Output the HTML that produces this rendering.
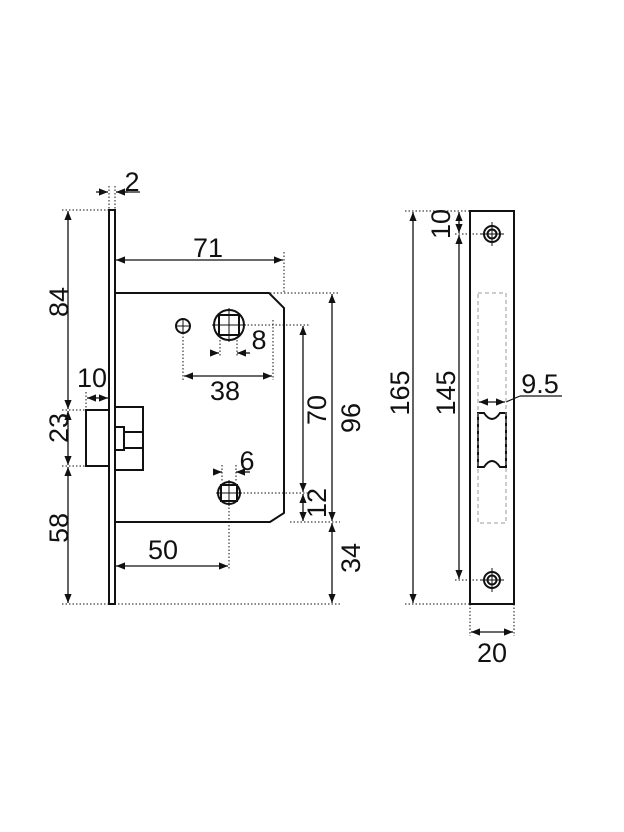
<!DOCTYPE html>
<html><head><meta charset="utf-8"><style>
html,body{margin:0;padding:0;background:#fff;width:624px;height:832px;overflow:hidden}
text{font-family:"Liberation Sans",sans-serif;font-size:27px;fill:#111;text-anchor:middle}
</style></head><body>
<svg width="624" height="832" viewBox="0 0 624 832" xmlns="http://www.w3.org/2000/svg">
<defs>
<marker id="a" viewBox="0 0 10 10" refX="10" refY="5" markerWidth="7" markerHeight="7" orient="auto-start-reverse"><path d="M0,1 L10,5 L0,9 z" fill="#111"/></marker>
</defs>
<g fill="none" stroke="#111" stroke-width="1" stroke-dasharray="1.5,2">
<line x1="62" y1="210" x2="109" y2="210"/>
<line x1="62" y1="604" x2="340" y2="604"/>
<line x1="62" y1="410" x2="86" y2="410"/>
<line x1="62" y1="466" x2="86" y2="466"/>
<line x1="109" y1="186" x2="109" y2="210"/>
<line x1="115" y1="186" x2="115" y2="210"/>
<line x1="86" y1="392" x2="86" y2="410"/>
<line x1="284" y1="252" x2="284" y2="293"/>
<line x1="270" y1="293" x2="340" y2="293"/>
<line x1="290" y1="522" x2="340" y2="522"/>
<line x1="244" y1="325" x2="310" y2="325"/>
<line x1="240" y1="493" x2="310" y2="493"/>
<line x1="183" y1="333" x2="183" y2="380"/>
<line x1="273" y1="320" x2="273" y2="380"/>
<line x1="220" y1="340" x2="220" y2="357"/>
<line x1="237" y1="340" x2="237" y2="357"/>
<line x1="222" y1="465" x2="222" y2="482"/>
<line x1="236" y1="465" x2="236" y2="482"/>
<line x1="229" y1="504" x2="229" y2="570"/>
<line x1="405" y1="211" x2="470" y2="211"/>
<line x1="405" y1="604" x2="490" y2="604"/>
<line x1="455" y1="234" x2="478" y2="234"/>
<line x1="455" y1="580" x2="478" y2="580"/>
<line x1="470" y1="604" x2="470" y2="636"/>
<line x1="514" y1="604" x2="514" y2="636"/>
</g>
<g fill="none" stroke="#111" stroke-width="1.3" marker-start="url(#a)" marker-end="url(#a)">
<line x1="68" y1="211" x2="68" y2="409"/>
<line x1="68" y1="411" x2="68" y2="465"/>
<line x1="68" y1="467" x2="68" y2="603"/>
<line x1="116" y1="260" x2="283" y2="260"/>
<line x1="303" y1="326" x2="303" y2="492"/>
<line x1="303" y1="494" x2="303" y2="521"/>
<line x1="332" y1="294" x2="332" y2="521"/>
<line x1="332" y1="523" x2="332" y2="603"/>
<line x1="87" y1="398" x2="108" y2="398"/>
<line x1="184" y1="376" x2="272" y2="376"/>
<line x1="116" y1="566" x2="228" y2="566"/>
<line x1="413" y1="212" x2="413" y2="603"/>
<line x1="459" y1="212" x2="459" y2="233"/>
<line x1="459" y1="235" x2="459" y2="579"/>
<line x1="471" y1="632" x2="513" y2="632"/>
<line x1="479" y1="402" x2="505" y2="402"/>
</g>
<g fill="none" stroke="#111" stroke-width="1.3" marker-end="url(#a)">
<line x1="96" y1="192" x2="108" y2="192"/>
<line x1="128" y1="192" x2="116" y2="192"/>
<line x1="250" y1="353" x2="237" y2="353"/>
<line x1="210" y1="353" x2="219" y2="353"/>
<line x1="250" y1="472" x2="236" y2="472"/>
<line x1="214" y1="472" x2="222" y2="472"/>
</g>
<g fill="none" stroke="#111" stroke-width="1.2">
<line x1="122" y1="192" x2="140" y2="192"/>
<line x1="506" y1="402" x2="520" y2="396"/>
<line x1="520" y1="396" x2="562" y2="396"/>
</g>
<g fill="none" stroke="#111" stroke-width="2">
<rect x="109" y="210" width="6" height="394"/>
<path d="M115,293 L269,293 L284,308 L284,513 L270,522 L115,522"/>
<rect x="86" y="410" width="23" height="56"/>
<path d="M115,407 L143,407 L143,470 L115,470"/>
<rect x="115" y="427" width="9" height="23"/>
<path d="M124,432 L143,432 M124,448 L143,448"/>
<circle cx="183" cy="326" r="7"/>
<circle cx="229" cy="325" r="15"/>
<rect x="219" y="315" width="20" height="20"/>
<circle cx="229" cy="493" r="11"/>
<rect x="221" y="485" width="16" height="16"/>
</g>
<g stroke="#111" stroke-width="1">
<line x1="176" y1="326" x2="190" y2="326"/><line x1="183" y1="319" x2="183" y2="333"/>
<line x1="229" y1="308" x2="229" y2="342"/><line x1="212" y1="325" x2="246" y2="325"/>
<line x1="229" y1="480" x2="229" y2="506"/><line x1="216" y1="493" x2="242" y2="493"/>
</g>
<g fill="none" stroke="#111" stroke-width="2">
<rect x="470" y="211" width="44" height="393"/>
<circle cx="492" cy="234" r="8"/><circle cx="492" cy="234" r="4.5"/>
<circle cx="492" cy="580" r="8"/><circle cx="492" cy="580" r="4.5"/>
<path d="M478,413 L484,413 Q492,425 500,413 L506,413 L506,467 L500,467 Q492,455 484,467 L478,467 Z"/>
</g>
<g stroke="#111" stroke-width="1">
<line x1="492" y1="222" x2="492" y2="246"/><line x1="480" y1="234" x2="504" y2="234"/>
<line x1="492" y1="568" x2="492" y2="592"/><line x1="480" y1="580" x2="504" y2="580"/>
</g>
<rect x="478" y="293" width="28" height="230" fill="none" stroke="#999" stroke-width="1" stroke-dasharray="4,3"/>
<text x="132" y="191">2</text>
<text x="208" y="257">71</text>
<text x="92" y="387">10</text>
<text x="225" y="400">38</text>
<text x="259" y="349">8</text>
<text x="247" y="470">6</text>
<text x="163" y="559">50</text>
<text x="540" y="393">9.5</text>
<text x="492" y="662">20</text>
<text transform="translate(68,302) rotate(-90)">84</text>
<text transform="translate(68,428) rotate(-90)">23</text>
<text transform="translate(68,528) rotate(-90)">58</text>
<text transform="translate(326,410) rotate(-90)">70</text>
<text transform="translate(326,503) rotate(-90)">12</text>
<text transform="translate(360,418) rotate(-90)">96</text>
<text transform="translate(360,558) rotate(-90)">34</text>
<text transform="translate(409,393) rotate(-90)">165</text>
<text transform="translate(455,393) rotate(-90)">145</text>
<text transform="translate(450,224) rotate(-90)">10</text>
</svg>
</body></html>
